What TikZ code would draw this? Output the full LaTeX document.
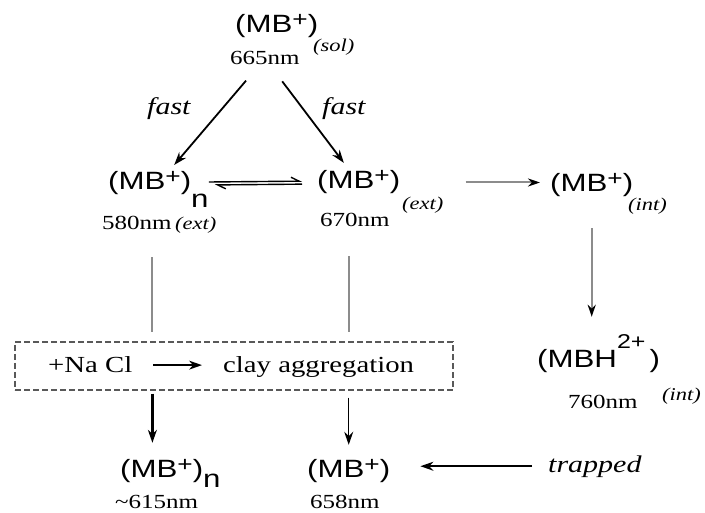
\documentclass[tikz,border=0pt]{standalone}
\usepackage{fontspec}
\setmainfont[FakeStretch=1.25]{Liberation Serif}
\newfontfamily\chemfont[FakeStretch=1.25]{Liberation Sans}
\usetikzlibrary{arrows.meta}
\definecolor{linegrey}{gray}{0.55}
\definecolor{boxgrey}{gray}{0.35}
\newcommand{\chg}[1]{\raisebox{6pt}{\fontsize{21}{21}\selectfont #1}}
\newcommand{\subn}[1]{\raisebox{#1}{n}}
\tikzset{
  species/.style={font=\chemfont\fontsize{25}{28}\selectfont, inner sep=0pt, text height=18pt, text depth=5pt, anchor=base west},
  wavelength/.style={font=\fontsize{20}{22}\selectfont, inner sep=0pt, anchor=base west},
  phase/.style={font=\itshape\fontsize{18}{20}\selectfont, inner sep=0pt, anchor=base west},
  rate/.style={font=\itshape\fontsize{24}{26}\selectfont, inner sep=0pt, anchor=base west},
  boxtext/.style={font=\fontsize{23}{26}\selectfont, inner sep=0pt, anchor=base west},
  react/.style={-{Stealth[length=13pt, width=9pt]}, line width=1.8pt},
  eq line/.style={-{Straight Barb[left, length=8pt, width=8pt]}, line width=1.4pt},
  grey line/.style={linegrey, line width=2pt},
  grey arrow/.style={grey line, -{Stealth[length=12pt, width=8pt, color=black]}},
}
\begin{document}
\begin{tikzpicture}[x=1pt, y=-1pt]
  \useasboundingbox (0,0) rectangle (705,513);

  % Solution
  \node[species] (sol) at (235,33) {(MB\chg{+})};
  \node[phase] (solph) at (313,52) {(sol)};
  \node[wavelength] (nm665) at (230,65) {665nm};

  % Rates
  \node[rate] (fastl) at (147,115) {fast};
  \node[rate] (fastr) at (322,115) {fast};

  % External surface
  \node[species] (agg) at (108,190) {(MB\chg{+})\subn{-18pt}};
  \node[wavelength] (nm580) at (102,230) {580nm};
  \node[phase] (extl) at (175,230) {(ext)};
  \node[species] (ext) at (317,189) {(MB\chg{+})};
  \node[phase] (extph) at (402,210) {(ext)};
  \node[wavelength] (nm670) at (320,227) {670nm};

  % Interlayer
  \node[species] (int) at (550,192) {(MB\chg{+})};
  \node[phase] (intph) at (628,211) {(int)};
  \node[species] (mbh) at (537,368) {(MBH\raisebox{20pt}{\fontsize{20}{20}\selectfont 2+}\,)};
  \node[phase] (mbhph) at (662,400) {(int)};
  \node[wavelength] (nm760) at (568,408) {760nm};

  % Salt box
  \node[draw=boxgrey, dash pattern=on 6pt off 3pt, line width=1.4pt, minimum width=438pt, minimum height=48pt, inner sep=0pt] (box) at (234,366) {};
  \node[boxtext] (nacl) at (48,373) {+Na Cl};
  \node[boxtext] (clay) at (223,373) {clay aggregation};

  % Final states
  \node[species] (aggb) at (120,477) {(MB\chg{+})\subn{-10pt}};
  \node[wavelength] (nm615) at (115,508) {\textasciitilde615nm};
  \node[species] (final) at (307,477) {(MB\chg{+})};
  \node[wavelength] (nm658) at (310,508) {658nm};
  \node[rate] (trap) at (548,472) {trapped};

  % Arrows
  \draw[react, shorten <=20pt, shorten >=9pt] (nm665) -- (agg);
  \draw[react, shorten <=20pt, shorten >=10pt] (nm665) -- (ext);
  \draw[eq line, shorten >=15pt] ([yshift=1.5pt]agg.east) -- ([yshift=1.5pt]ext.west);
  \draw[eq line, shorten <=15pt, shorten >=6pt] ([yshift=-1.5pt]ext.west) -- ([yshift=-1.5pt]agg.east);
  \draw[grey arrow, shorten <=22pt, shorten >=10pt] (extph.east |- ext.east) -- (int.west |- ext.east);
  \draw[grey arrow, shorten <=31pt, shorten >=33pt] (int.south) -- (int.south |- mbh.north);

  \coordinate (aggcol) at ([xshift=-6pt]agg.south);
  \draw[grey line, shorten <=62pt, shorten >=9pt] (aggcol) -- (aggcol |- box.north);
  \draw[grey line, shorten <=62pt, shorten >=9pt] (ext.south -| final.north) -- (box.north -| final.north);
  \draw[react, line width=1.6pt, shorten <=21pt, shorten >=21pt] (nacl.east) -- (nacl.east -| clay.west);

  \draw[react, line width=2.4pt, shorten <=3pt, shorten >=16pt] (aggcol |- box.south) -- (aggcol |- aggb.north);
  \draw[react, line width=1.4pt, shorten <=7pt, shorten >=14pt] (box.south -| final.north) -- (final.north);
  \draw[react, line width=1.6pt, shorten <=16pt, shorten >=30pt] (trap.west) -- (trap.west -| final.east);
\end{tikzpicture}
\end{document}
